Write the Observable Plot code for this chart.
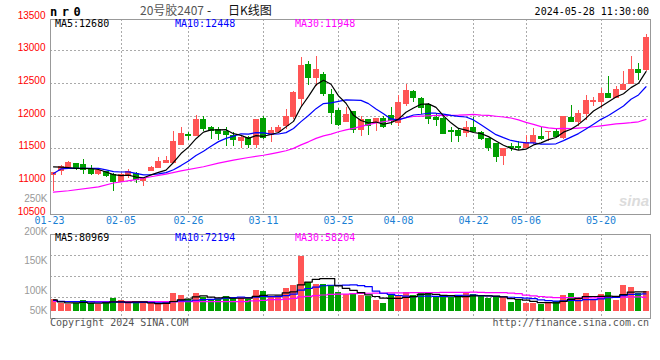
<!DOCTYPE html>
<html>
<head>
<meta charset="utf-8">
<script src="https://cdn.jsdelivr.net/npm/d3@7"></script>
<script src="https://cdn.jsdelivr.net/npm/@observablehq/plot@0.6"></script>
<style>
  html, body { margin: 0; padding: 0; background: #fff; }
  #chart { position: relative; width: 660px; height: 360px; overflow: hidden; background: #fff; }
  #chart > svg { position: absolute; left: 0; }
</style>
</head>
<body>
<div id="chart"></div>
<script>
// ---------- data ----------
const dates = [
  "01-23","01-24","01-25","01-26","01-29","01-30","01-31",
  "02-01","02-02","02-05","02-06","02-07","02-08","02-19","02-20","02-21","02-22","02-23","02-26","02-27","02-28","02-29",
  "03-01","03-04","03-05","03-06","03-07","03-08","03-11","03-12","03-13","03-14","03-15","03-18","03-19","03-20","03-21","03-22","03-25","03-26","03-27","03-28","03-29",
  "04-01","04-02","04-03","04-08","04-09","04-10","04-11","04-12","04-15","04-16","04-17","04-18","04-19","04-22","04-23","04-24","04-25","04-26","04-29","04-30",
  "05-06","05-07","05-08","05-09","05-10","05-13","05-14","05-15","05-16","05-17","05-20","05-21","05-22","05-23","05-24","05-27","05-28"
];
const open = [
  11096,11157,11223,11264,11249,11178,11106,11147,11096,10989,
  11086,11106,11000,11157,11208,11279,11284,11564,11707,11697,
  11936,11814,11793,11758,11692,11620,11656,11554,11951,11707,
  11753,11844,11987,12267,12781,12582,12633,12318,12073,11911,
  12058,11783,11946,11895,11956,11997,11895,12180,12369,12257,
  12165,11972,11951,11768,11768,11743,11824,11743,11646,11569,
  11391,11519,11524,11514,11580,11676,11748,11748,11656,11977,
  11911,12038,12211,12216,12333,12277,12394,12496,12700,12700
];
const high = [
  11140,11239,11300,11270,11340,11244,11188,11157,11122,11122,
  11188,11132,11035,11234,11361,11376,11763,11829,11753,12012,
  11987,11834,11824,11824,11743,11692,11692,11950,11997,11824,
  11854,12099,12374,12893,12842,12918,12659,12409,12114,12124,
  12058,11987,11946,11951,11987,12129,12318,12486,12384,12277,
  12190,12038,11972,11819,11804,11921,11977,11768,11656,11569,
  11493,11580,11605,11707,11804,11819,11753,11804,11987,12165,
  12079,12318,12282,12420,12608,12455,12684,12918,12801,13249
];
const low = [
  10850,11086,11218,11162,11112,11086,11086,11060,10837,10984,
  11045,10964,10918,11147,11193,11274,11274,11554,11631,11681,
  11758,11641,11631,11539,11539,11503,11508,11503,11641,11600,
  11732,11793,11951,12124,12470,12445,12302,11875,11834,11911,
  11732,11681,11707,11758,11814,11860,11834,12150,12206,12022,
  11865,11844,11712,11590,11600,11666,11743,11620,11452,11284,
  11239,11453,11468,11503,11569,11631,11605,11671,11641,11900,
  11844,11936,12140,12114,12267,12267,12384,12486,12547,12684
];
const close = [
  11130,11223,11274,11188,11173,11111,11157,11086,10989,11096,
  11142,11015,11035,11208,11290,11310,11600,11722,11697,11936,
  11809,11778,11727,11707,11631,11671,11554,11936,11656,11768,
  11824,11987,12353,12760,12582,12710,12333,12048,11870,12012,
  11793,11936,11854,11951,11834,11921,12201,12379,12277,12124,
  11951,11936,11722,11748,11692,11824,11753,11641,11513,11366,
  11493,11509,11514,11580,11692,11651,11753,11681,11987,11911,
  12028,12226,12231,12333,12277,12394,12470,12700,12664,13193
];
const volume = [
  49400,32900,28800,32900,45300,34200,28800,35800,53500,44000,
  31700,34200,32900,31700,30000,37000,74000,65800,50600,74000,
  57600,49400,50600,61700,53500,57600,50600,86400,82300,63000,
  56400,94600,107000,227600,120600,111000,111000,107000,79400,68700,
  68700,64600,61700,45300,34200,64600,64600,79400,64600,79400,
  72800,57600,57600,57600,61700,72800,70000,61700,54700,56400,
  56400,37000,48100,34200,34200,28800,38300,41200,65800,74000,
  49400,74000,45300,70000,78200,45300,107000,98800,74000,82300
];
// price moving averages (null = not read at that day)
const ma5 = [
  11223,11218,11210,11200,11198,11194,11181,11143,11103,11088,
  11094,11066,11055,11099,11138,11172,11289,11426,11524,11653,
  11753,11788,11789,11791,11730,11703,11658,11700,11690,11717,
  11748,11834,11918,12138,12301,12478,12548,12487,12309,12195,
  12011,11932,11893,11909,11874,11899,11952,12057,12122,12180,
  12186,12133,12002,11896,11810,11784,11748,11732,11685,11619,
  11553,11504,11479,11492,11558,11589,11638,11671,11753,11797,
  11872,11967,12077,12146,12219,12292,12341,12435,12501,12680
];
const ma10 = [
  11120,11190,11198,11200,11200,11200,11198,11175,11150,11143,
  11144,11123,11099,11101,11113,11133,11177,11241,11312,11396,
  11462,11539,11608,11658,11692,11728,11723,11745,11741,11724,
  11725,11746,11809,11914,12009,12113,12191,12202,12224,12248,
  12245,12240,12190,12109,12034,11955,11942,11975,12016,12027,
  12043,12043,12030,12009,11995,11985,11941,11867,11790,11715,
  11669,11626,11605,11589,11589,11571,11571,11575,11623,11677,
  11731,11802,11874,11949,12008,12082,12154,12256,12323,12448
];
const ma30 = [
  10835,null,10856,null,null,null,10915,null,10975,null,
  null,11025,null,11070,null,11110,null,11160,null,null,
  11223,null,11280,null,11325,null,11365,null,11400,11421,
  11444,11469,11505,11558,11605,11658,11697,11723,11759,11789,
  11811,11841,11869,11894,11912,11932,11952,11974,11993,12000,
  12004,12010,12009,12011,12013,12018,12025,12015,12010,11997,
  11985,11970,11942,11902,11873,11837,11818,11806,11810,11806,
  11814,11824,11836,11849,11864,11880,11889,11899,11912,11948
];
// volume moving averages, thousands
const volMa5K = [
  48.1,40.0,35.8,35.8,37.9,34.8,34.0,35.4,39.5,39.3,
  38.8,39.8,39.3,34.9,32.1,33.2,41.1,47.7,51.5,60.3,
  64.4,59.5,56.4,58.7,54.6,54.6,54.8,62.0,66.1,68.0,
  67.7,76.5,80.7,109.7,121.2,132.2,135.4,135.4,105.8,95.4,
  87.0,77.7,68.6,61.8,54.9,54.1,54.1,57.6,61.5,70.5,
  72.2,70.8,66.4,65.0,61.5,61.5,63.9,64.8,64.2,63.1,
  59.8,53.2,50.5,46.4,42.0,36.5,36.7,35.3,41.7,49.6,
  53.7,60.9,61.7,62.5,63.4,62.6,69.2,79.9,80.7,81.0
];
const volMa10K = [
  45.3,42.0,41.2,41.0,40.5,40.0,38.3,38.3,38.3,38.6,
  36.8,36.9,37.3,37.2,35.7,36.0,40.5,43.5,43.2,46.2,
  48.8,50.3,52.1,55.1,57.4,59.5,57.1,59.2,62.4,61.3,
  61.2,65.7,71.3,87.9,94.6,100.0,106.0,108.1,107.8,108.3,
  109.6,106.6,102.0,83.8,75.2,70.5,65.9,63.1,61.6,62.7,
  63.1,62.4,62.0,63.2,66.0,66.8,67.4,65.6,64.6,62.3,
  60.7,58.6,57.6,55.3,52.6,48.2,45.0,42.9,44.0,45.8,
  45.1,48.8,48.5,52.1,56.5,58.2,65.0,70.8,71.6,72.2
];
const volMa30K = [
  41.2,null,null,null,null,null,null,null,null,null,
  41.0,null,null,null,null,null,null,null,null,null,
  41.0,null,null,null,null,41.0,null,44.0,46.0,48.7,
  48.9,51.0,53.6,60.1,62.6,65.1,67.9,70.2,71.1,71.9,
  73.2,74.2,75.1,75.6,75.7,76.7,76.3,76.8,77.3,77.4,
  77.9,78.2,78.5,78.3,78.6,79.1,79.7,78.9,78.0,77.8,
  77.8,75.9,73.9,67.4,64.6,61.8,59.4,57.2,56.8,56.9,
  56.3,56.6,56.1,56.9,58.3,57.7,59.1,59.8,60.1,58.2
];
const priceTicks = [10500, 11000, 11500, 12000, 12500, 13000, 13500];
const dateTicks = ["01-23","02-05","02-26","03-11","03-25","04-08","04-22","05-06","05-20"];
const volTickLabels = ["250K","200K","150K","100K","50K"];
const volTickAt = [465000, 329200, 207000, 86400, 4100];   // where the site draws these labels on its volume scale
const maLabels = ["MA5:12680","MA10:12448","MA30:11948"];
const volMaLabels = ["MA5:80969","MA10:72194","MA30:58204"];
const titleParts = ["20号胶2407", "-", "日K线图"];
const symbol = "nr0";
const stamp = "2024-05-28 11:30:00";

// ---------- drawing ----------
const N = dates.length;
const RED = "#ff5555", GREEN = "#00a000";
const MA_COLORS = ["#000000", "#0000ff", "#ff00ff"];
const X_DOMAIN = [-0.4, N - 0.4];
const candles = dates.map((d, i) => ({
  i, date: d, o: open[i], h: high[i], l: low[i], c: close[i], v: volume[i],
  col: close[i] >= open[i] ? RED : GREEN
}));
const pairs = (arr, k = 1) => arr.map((v, i) => [i, v == null ? null : v * k]).filter(p => p[1] != null);
const gridIdx = dateTicks.map(t => dates.indexOf(t)).filter(i => i > 0);
const mono = "DejaVu Sans Mono, monospace";
const sans = "Liberation Sans, Arial, sans-serif";
const dotted = {stroke: "#aaaaaa", strokeDasharray: "2,2", shapeRendering: "crispEdges"};
const PRICE_DOMAIN = [10500, 13478];
const dateText = {text: d => d, frameAnchor: "bottom", dy: 9.5, fill: "#1a7fd4", fontFamily: mono, fontSize: 10};

const price = Plot.plot({
  width: 660, height: 232,
  marginLeft: 50, marginRight: 10, marginTop: 19, marginBottom: 18.5,
  style: "background: transparent; overflow: visible;",
  x: {type: "linear", domain: X_DOMAIN, axis: null},
  y: {domain: PRICE_DOMAIN, axis: null},
  color: {type: "identity"},
  marks: [
    Plot.ruleY(priceTicks.filter(v => v > PRICE_DOMAIN[0] && v < PRICE_DOMAIN[1]), dotted),
    Plot.ruleX(gridIdx, dotted),
    Plot.ruleX(candles, {x: "i", y1: "l", y2: "h", stroke: "col", shapeRendering: "crispEdges"}),
    Plot.rect(candles, {
      x1: d => d.i - 0.4, x2: d => d.i + 0.4,
      y1: d => Math.min(d.o, d.c), y2: d => Math.max(d.o, d.c),
      fill: "col", insetTop: -0.5, insetBottom: -0.5, shapeRendering: "crispEdges"
    }),
    Plot.line(pairs(ma30), {x: d => d[0], y: d => d[1], stroke: MA_COLORS[2], strokeWidth: 1.2}),
    Plot.line(pairs(ma10), {x: d => d[0], y: d => d[1], stroke: MA_COLORS[1], strokeWidth: 1.2}),
    Plot.line(pairs(ma5), {x: d => d[0], y: d => d[1], stroke: MA_COLORS[0], strokeWidth: 1.2}),
    Plot.frame({stroke: "#999999", shapeRendering: "crispEdges"}),
    Plot.text(priceTicks, {y: d => d, text: d => String(d), frameAnchor: "left", textAnchor: "end",
      dx: -5, dy: -2.5, fill: "#ff0000", fontFamily: sans, fontSize: 10}),
    Plot.text(dateTicks.slice(0, 1), {...dateText, x: d => dates.indexOf(d), dx: -4}),
    Plot.text(dateTicks.slice(1), {...dateText, x: d => dates.indexOf(d)})
  ]
});

const VOL_DOMAIN = [-28805, 316855];
const volGrid = [1, 2, 3].map(k => VOL_DOMAIN[0] + k * (VOL_DOMAIN[1] - VOL_DOMAIN[0]) / 4);
const vol = Plot.plot({
  width: 660, height: 150,
  marginLeft: 50, marginRight: 10, marginTop: 44, marginBottom: 22,
  style: "background: transparent; overflow: visible;",
  x: {type: "linear", domain: X_DOMAIN, axis: null},
  y: {domain: VOL_DOMAIN, axis: null},
  color: {type: "identity"},
  marks: [
    Plot.ruleY(volGrid, dotted),
    Plot.ruleX(gridIdx, dotted),
    Plot.rect(candles, {x1: d => d.i - 0.4, x2: d => d.i + 0.4, y1: 0, y2: "v", fill: "col", shapeRendering: "crispEdges"}),
    Plot.line(pairs(volMa30K, 1000), {x: d => d[0], y: d => d[1], stroke: MA_COLORS[2], strokeWidth: 1.2, curve: "step"}),
    Plot.line(pairs(volMa10K, 1000), {x: d => d[0], y: d => d[1], stroke: MA_COLORS[1], strokeWidth: 1.2, curve: "step"}),
    Plot.line(pairs(volMa5K, 1000), {x: d => d[0], y: d => d[1], stroke: MA_COLORS[0], strokeWidth: 1.2, curve: "step"}),
    Plot.frame({stroke: "#999999", shapeRendering: "crispEdges"}),
    Plot.text(volTickLabels, {y: (d, i) => volTickAt[i], text: d => d, frameAnchor: "left", textAnchor: "end",
      dx: -3, fill: "#999999", fontFamily: sans, fontSize: 10})
  ]
});

const root = document.getElementById("chart");
price.style.top = "0px";
vol.style.top = "190px";
root.appendChild(price);
root.appendChild(vol);

// header / footer annotations
const ov = d3.select(root).append("svg")
  .attr("width", 660).attr("height", 360)
  .style("top", "0px").style("pointer-events", "none");
function label(t, x, y, o = {}) {
  ov.append("text").text(t)
    .attr("x", x).attr("y", y)
    .attr("text-anchor", o.anchor || "start")
    .attr("fill", o.color || "#000")
    .attr("font-family", o.family || mono)
    .attr("font-size", o.size || 10)
    .attr("font-weight", o.weight || "normal")
    .attr("font-style", o.style || "normal")
    .attr("letter-spacing", o.ls || 0);
}
label(symbol, 50, 15.7, {size: 12, weight: "bold", ls: 4.5});
const cjk = "Noto Sans CJK SC, sans-serif";
label(titleParts[0], 140, 14.5, {family: cjk, size: 12, color: "#555"});
label(titleParts[1], 207, 14.5, {family: cjk, size: 12, color: "#111"});
label(titleParts[2], 228, 14.5, {family: cjk, size: 12, color: "#111"});
label(stamp, 649, 15, {anchor: "end"});
[55, 175, 295].forEach((x, k) => {
  label(maLabels[k], x, 26.5, {color: MA_COLORS[k]});
  label(volMaLabels[k], x, 240.7, {color: MA_COLORS[k]});
});
label("sina", 619, 206, {family: sans, size: 15, weight: "bold", style: "italic", color: "#dcdcdc"});
label("Copyright 2024 SINA.COM", 50, 325.8, {color: "#555"});
label("http://finance.sina.com.cn", 649, 325.5, {anchor: "end", color: "#555"});
</script>
</body>
</html>
